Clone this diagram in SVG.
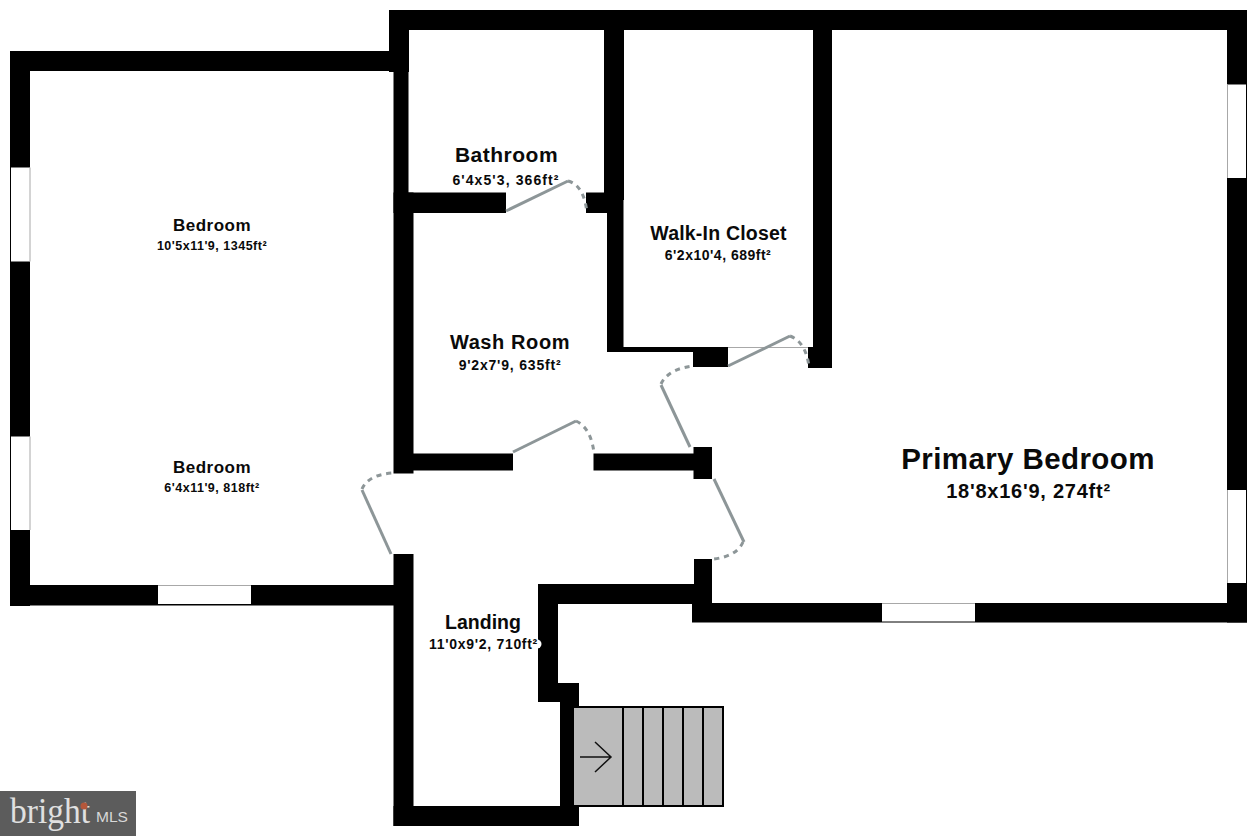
<svg xmlns="http://www.w3.org/2000/svg" width="1257" height="836" viewBox="0 0 1257 836">
<style>
.w{fill:#000}
.win{fill:#fff}
.edge{stroke:#a8a8a8;stroke-width:1;fill:none}
.d{fill:none;stroke:#8d9698;stroke-width:3}
.a{fill:none;stroke:#8d9698;stroke-width:3;stroke-dasharray:5 5}
.t{font-family:"Liberation Sans",Arial,sans-serif;font-weight:700;fill:#0a0a0a;text-anchor:middle}
.s{font-size:14px}
.sm{font-size:12.500px}
.st{fill:#bbb;stroke:#000;stroke-width:2}
</style>
<rect width="1257" height="836" fill="#fff"/>
<g id="walls">
<rect class="w" x="10" y="51" width="384" height="20"/>
<rect class="w" x="10" y="51" width="20" height="555"/>
<rect class="w" x="10" y="585" width="384" height="20.500"/>
<rect class="w" x="389" y="10" width="858" height="20"/>
<rect class="w" x="389" y="10" width="20" height="62"/>
<rect class="w" x="393.500" y="60" width="15" height="153"/>
<rect class="w" x="393.500" y="192.500" width="20" height="281"/>
<rect class="w" x="408" y="192.500" width="98" height="20.500"/>
<rect class="w" x="586" y="192.500" width="22" height="20.500"/>
<rect class="w" x="604" y="10" width="20" height="190"/>
<rect class="w" x="607" y="193" width="16.500" height="159"/>
<rect class="w" x="607" y="347" width="90" height="5"/>
<rect class="w" x="693" y="347" width="35" height="20"/>
<rect class="w" x="813" y="10" width="19" height="358"/>
<rect class="w" x="808" y="347" width="24" height="21"/>
<rect class="w" x="413" y="453.500" width="100" height="17"/>
<rect class="w" x="593.500" y="453.500" width="101" height="17"/>
<rect class="w" x="693.500" y="447" width="18.500" height="32"/>
<rect class="w" x="393.500" y="554" width="20" height="272"/>
<rect class="w" x="393.500" y="806" width="185.500" height="20"/>
<rect class="w" x="560" y="683" width="14" height="135"/>
<rect class="w" x="538" y="683" width="41" height="19"/>
<rect class="w" x="560" y="683" width="19" height="24"/>
<rect class="w" x="538" y="584" width="20" height="118"/>
<rect class="w" x="538" y="584" width="174" height="20"/>
<rect class="w" x="694" y="559" width="18" height="63"/>
<rect class="w" x="692" y="603" width="555" height="19.500"/>
<rect class="w" x="1227" y="10" width="20" height="612.500"/>
</g>
<g id="windows">
<rect class="win" x="11" y="167.500" width="19" height="94"/>
<rect class="win" x="11" y="436.500" width="19" height="93.500"/>
<rect class="win" x="158" y="586" width="93" height="18"/>
<rect class="win" x="1227" y="84.500" width="19" height="93.500"/>
<rect class="win" x="1227" y="490" width="19" height="93"/>
<rect class="win" x="882" y="603.500" width="93" height="18"/>
<path class="edge" d="M30 167.500V261.500M30 436.500V530M158 585.500H251M1227.500 84.500V178M1227.500 490V583M882 603.500H975M728 347.500H808"/>
</g>
<g id="doors">
<path class="d" d="M506 211L568 181"/><path class="a" d="M568 181Q584 185 587 213"/>
<path class="d" d="M728 366L790 336"/><path class="a" d="M790 336Q806 342 809 367"/>
<path class="d" d="M690 447L661 385"/><path class="a" d="M661 384Q668 369 693 366"/>
<path class="d" d="M513 452L576 421"/><path class="a" d="M576 421Q591 428 594 453"/>
<path class="d" d="M391 554L362 490"/><path class="a" d="M362 489Q368 475 392 473"/>
<path class="d" d="M714 479L744 542"/><path class="a" d="M743 542Q737 556 714 559"/>
</g>
<g id="stairs">
<rect class="st" x="573" y="707" width="150" height="99"/>
<path d="M623 707V806M643 707V806M663 707V806M683 707V806M703 707V806" stroke="#000" stroke-width="2" fill="none"/>
<path d="M580 757H611M595 742L611 757L595 772" stroke="#111" stroke-width="1.500" fill="none"/>
</g>
<g id="bedroom-1"><text class="t" style="font-size:17px;letter-spacing:.5px" x="212" y="231">Bedroom</text><text class="t sm" style="letter-spacing:.5px" x="212" y="250">10'5x11'9, 1345ft²</text></g>
<g id="bedroom-2"><text class="t" style="font-size:17px;letter-spacing:.5px" x="212" y="473">Bedroom</text><text class="t sm" style="letter-spacing:.5px" x="212" y="492">6'4x11'9, 818ft²</text></g>
<g id="bathroom"><text class="t" style="font-size:21px;letter-spacing:.5px" x="506.500" y="162">Bathroom</text><text class="t s" style="letter-spacing:1.100px" x="506" y="185">6'4x5'3, 366ft²</text></g>
<g id="walk-in-closet"><text class="t" style="font-size:19.500px;letter-spacing:.2px" x="718.500" y="240">Walk-In Closet</text><text class="t s" style="letter-spacing:.5px" x="718" y="260">6'2x10'4, 689ft²</text></g>
<g id="wash-room"><text class="t" style="font-size:20px;letter-spacing:.6px" x="510" y="349">Wash Room</text><text class="t s" style="letter-spacing:.8px" x="510" y="370">9'2x7'9, 635ft²</text></g>
<g id="primary-bedroom"><text class="t" style="font-size:29.500px;letter-spacing:.4px" x="1028" y="469">Primary Bedroom</text><text class="t" style="font-size:20px;letter-spacing:.75px" x="1028.500" y="498">18'8x16'9, 274ft²</text></g>
<g id="landing"><circle cx="537" cy="644" r="4.500" fill="#fff"/><text class="t" style="font-size:19.500px" x="483" y="629">Landing</text><text class="t s" style="letter-spacing:.7px" x="483.500" y="649">11'0x9'2, 710ft²</text></g>
<g id="logo">
<rect x="0" y="791" width="136" height="45" fill="#5c5c5c"/>
<text x="10" y="823" style="font-family:'Liberation Serif',serif;font-size:35px" fill="#e0e0e0" textLength="80" lengthAdjust="spacingAndGlyphs">bright</text>
<circle cx="84" cy="806" r="3.500" fill="#b5573a"/>
<text x="96" y="822" style="font-family:'Liberation Sans',sans-serif;font-size:15px" fill="#d8d8d8" textLength="32" lengthAdjust="spacingAndGlyphs">MLS</text>
</g>
</svg>
